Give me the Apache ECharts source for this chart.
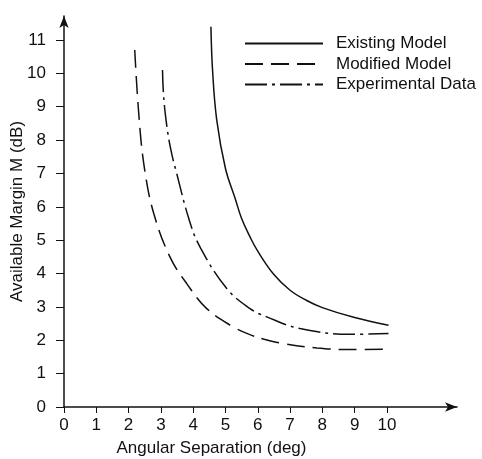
<!DOCTYPE html>
<html>
<head>
<meta charset="utf-8">
<script src="https://cdn.jsdelivr.net/npm/echarts@6/dist/echarts.min.js"></script>
<style>
  html, body { margin: 0; padding: 0; background: #fff; }
  #chart { width: 482px; height: 459px; }
</style>
</head>
<body>
<div id="chart"></div>
<script>
// values
var xTicks = [0, 1, 2, 3, 4, 5, 6, 7, 8, 9, 10];
var yTicks = [0, 1, 2, 3, 4, 5, 6, 7, 8, 9, 10, 11];

var existingX = [4.55, 4.6, 4.73, 5.0, 5.3, 5.5, 5.76, 6.0, 6.5, 7.0, 7.5, 8.0, 9.0, 10.05];
var existingY = [11.4, 10.1, 8.6, 7.15, 6.25, 5.65, 5.1, 4.67, 3.97, 3.5, 3.2, 2.98, 2.68, 2.45];

var modifiedX = [2.19, 2.33, 2.5, 2.78, 3.28, 3.8, 4.42, 5.24, 5.76, 6.2, 6.79, 7.83, 8.86, 10.05];
var modifiedY = [10.7, 8.6, 7.1, 5.8, 4.5, 3.7, 2.95, 2.4, 2.17, 2.03, 1.9, 1.77, 1.72, 1.73];

var experimentalX = [3.05, 3.08, 3.16, 3.3, 3.49, 3.88, 4.21, 5.04, 5.76, 6.28, 7.31, 8.86, 10.05];
var experimentalY = [10.1, 9.4, 8.6, 7.75, 7.0, 5.6, 4.8, 3.55, 2.95, 2.7, 2.35, 2.18, 2.2];

function pairs(xs, ys) {
    var out = [];
    for (var i = 0; i < xs.length; i++) {
        out.push([xs[i], ys[i]]);
    }
    return out;
}

var ink = '#111';
var fontFamily = '"Liberation Sans", Arial, Helvetica, sans-serif';

var myChart = echarts.init(document.getElementById('chart'));
var option = {
    animation: false,
    backgroundColor: '#fff',
    textStyle: { fontFamily: fontFamily, color: ink },
    grid: {
        left: 64,
        right: 25,
        top: 16,
        bottom: 52,
        outerBoundsMode: 'none'
    },
    legend: {
        orient: 'vertical',
        left: 239,
        top: 30,
        itemWidth: 78,
        itemHeight: 14,
        itemGap: 3.5,
        selectedMode: false,
        itemStyle: { color: 'rgba(0,0,0,0)', borderWidth: 0 },
        textStyle: { fontSize: 17, color: ink, fontFamily: fontFamily, padding: [0, 0, 0, 8] },
        data: ['Existing Model', 'Modified Model', 'Experimental Data']
    },
    xAxis: {
        type: 'value',
        min: 0,
        max: 12.17,
        name: 'Angular Separation (deg)',
        nameLocation: 'middle',
        nameGap: 33,
        nameMoveOverlap: false,
        nameTextStyle: { fontSize: 17, color: ink, padding: [0, 98, 0, 0] },
        splitLine: { show: false },
        axisLine: {
            lineStyle: { color: ink, width: 1.5 },
            symbol: ['none', 'arrow'],
            symbolSize: [7, 12]
        },
        axisTick: { customValues: xTicks, length: 6, lineStyle: { color: ink } },
        axisLabel: { customValues: xTicks, fontSize: 17, color: ink, margin: 10 }
    },
    yAxis: {
        type: 'value',
        min: 0,
        max: 11.72,
        name: 'Available Margin M (dB)',
        nameLocation: 'middle',
        nameGap: 38,
        nameMoveOverlap: false,
        nameTextStyle: { fontSize: 17, color: ink },
        splitLine: { show: false },
        axisLine: {
            lineStyle: { color: ink, width: 1.5 },
            symbol: ['none', 'arrow'],
            symbolSize: [7, 12]
        },
        axisTick: { customValues: yTicks, length: 8, lineStyle: { color: ink } },
        axisLabel: { customValues: yTicks, fontSize: 17, color: ink, margin: 18 }
    },
    series: [
        {
            name: 'Existing Model',
            type: 'line',
            smooth: 0.4,
            symbol: 'none',
            lineStyle: { color: ink, width: 1.5, type: 'solid' },
            itemStyle: { color: ink },
            data: pairs(existingX, existingY)
        },
        {
            name: 'Modified Model',
            type: 'line',
            smooth: 0.4,
            symbol: 'none',
            lineStyle: { color: ink, width: 1.5, type: [18, 8] },
            itemStyle: { color: ink },
            data: pairs(modifiedX, modifiedY)
        },
        {
            name: 'Experimental Data',
            type: 'line',
            smooth: 0.4,
            symbol: 'none',
            lineStyle: { color: ink, width: 1.5, type: [22, 5, 3, 5] },
            itemStyle: { color: ink },
            data: pairs(experimentalX, experimentalY)
        }
    ]
};
myChart.setOption(option);
</script>
</body>
</html>
